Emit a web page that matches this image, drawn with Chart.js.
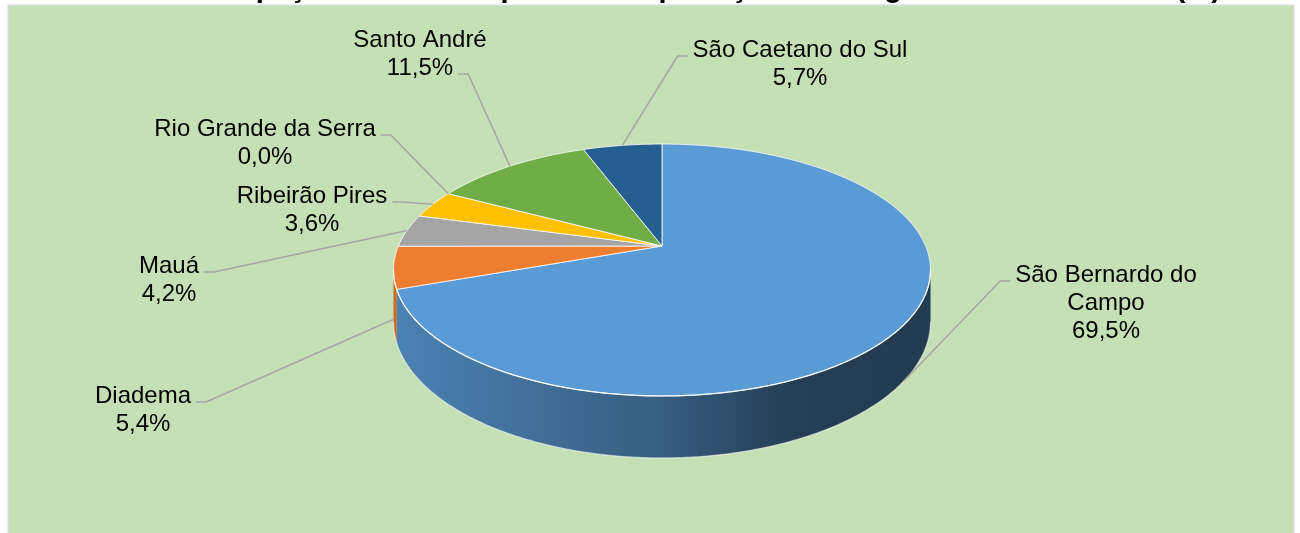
<!DOCTYPE html>
<html><head><meta charset="utf-8">
<script src="https://cdn.jsdelivr.net/npm/chart.js@4.4.1/dist/chart.umd.min.js"></script>
<style>
html,body{margin:0;padding:0;background:#fff;overflow:hidden;width:1300px;height:533px;}
#wrap{position:relative;width:1300px;height:533px;overflow:hidden;}
#c{position:absolute;left:0;top:-28px;}
</style></head><body>
<div id="wrap"><canvas id="c" width="1300" height="561"></canvas></div>
<script>
// ---- data ----
const chartTitle = 'Participação dos municípios nas exportações da Região do Grande ABC (%)';
const categories = ['São Bernardo do Campo','Diadema','Mauá','Ribeirão Pires','Rio Grande da Serra','Santo André','São Caetano do Sul'];
const shares = [69.5, 5.4, 4.2, 3.6, 0.0, 11.5, 5.7];
// ---- styles ----
const sliceColors = ['#5b9bd5','#ed7d31','#a5a5a5','#ffc000','#4472c4','#70ad47','#255e91'];
// label layout: text centre x, first baseline y, which line the leader attaches to, on which side
const labelLayout = [
  {x:1106, y:282, line:0, side:'left',  wrap:200},
  {x:143,  y:403, line:0, side:'right', wrap:400},
  {x:169,  y:273, line:0, side:'right', wrap:400},
  {x:312,  y:203, line:0, side:'right', wrap:400},
  {x:265,  y:136, line:0, side:'right', wrap:400},
  {x:420,  y:47,  line:1, side:'right', wrap:400},
  {x:800,  y:57,  line:0, side:'left',  wrap:400}
];
const OFF = 28;              // canvas shifted up so the title is cut as in the reference
const CX = 662, CY = 246;    // apex of the pie
const RA = 263.6, RB = 121.4, PERSP = 0.1905, DEPTH = 50.2;
const LABEL_FONT = '24px "Liberation Sans", Arial, sans-serif';
const LINE_H = 28;

function proj(t, d) {
  const X = Math.cos(t), Z = -Math.sin(t), den = 1 + PERSP * Z;
  return [CX + RA * X / den, CY - RB * Z / den + d * DEPTH / den];
}
function shade(hex, f) {
  const n = parseInt(hex.slice(1), 16);
  const r = Math.round(((n >> 16) & 255) * f), g = Math.round(((n >> 8) & 255) * f), b = Math.round((n & 255) * f);
  return 'rgb(' + r + ',' + g + ',' + b + ')';
}
function arcPath(ctx, a, b, d, first) {
  const steps = Math.max(2, Math.ceil(Math.abs(b - a) / 0.01));
  for (let k = 0; k <= steps; k++) {
    const t = a + (b - a) * k / steps;
    const p = proj(t, d);
    if (first && k === 0) ctx.moveTo(p[0], p[1]); else ctx.lineTo(p[0], p[1]);
  }
}
function wrapText(ctx, text, maxW) {
  const words = text.split(' ');
  const lines = [];
  let cur = '';
  for (const w of words) {
    const test = cur ? cur + ' ' + w : w;
    if (cur && ctx.measureText(test).width > maxW) { lines.push(cur); cur = w; } else cur = test;
  }
  if (cur) lines.push(cur);
  return lines;
}

const pie3d = {
  id: 'pie3d',
  beforeDraw(chart) {
    const ctx = chart.ctx;
    ctx.save();
    ctx.fillStyle = '#ffffff';
    ctx.fillRect(0, 0, chart.width, chart.height);
    ctx.translate(0, OFF);
    ctx.fillStyle = '#c5e0b4';
    ctx.fillRect(8, 5, 1286, 560);
    ctx.strokeStyle = '#d9d9d9';
    ctx.lineWidth = 1.5;
    ctx.strokeRect(8.25, 5.25, 1285.5, 560);
    ctx.restore();
  },
  beforeDatasetsDraw(chart) {
    const ctx = chart.ctx;
    const meta = chart.getDatasetMeta(0);
    const arcs = meta.data;
    const tL = Math.asin(PERSP), tR = Math.PI - Math.asin(PERSP);
    ctx.save();
    ctx.translate(0, OFF);
    // side walls (front half)
    arcs.forEach((arc, i) => {
      const a = Math.max(arc.startAngle, tL), b = Math.min(arc.endAngle, tR);
      if (b <= a) return;
      ctx.beginPath();
      arcPath(ctx, a, b, 0, true);
      arcPath(ctx, b, a, 1, false);
      ctx.closePath();
      const g = ctx.createLinearGradient(CX - RA * 1.02, 0, CX + RA * 1.02, 0);
      const c = sliceColors[i];
      g.addColorStop(0, shade(c, 0.84));
      g.addColorStop(0.5, shade(c, 0.6));
      g.addColorStop(0.74, shade(c, 0.4));
      g.addColorStop(1, shade(c, 0.38));
      ctx.fillStyle = g;
      ctx.fill();
    });
    // bottom edge highlight
    ctx.beginPath();
    arcPath(ctx, tL, tR, 1, true);
    ctx.strokeStyle = 'rgba(255,255,255,0.55)';
    ctx.lineWidth = 1.3;
    ctx.stroke();
    // top faces
    arcs.forEach((arc, i) => {
      if (arc.endAngle - arc.startAngle <= 1e-6) return;
      ctx.beginPath();
      ctx.moveTo(CX, CY);
      arcPath(ctx, arc.startAngle, arc.endAngle, 0, false);
      ctx.closePath();
      ctx.fillStyle = sliceColors[i];
      ctx.fill();
      ctx.strokeStyle = 'rgba(255,255,255,0.8)';
      ctx.lineWidth = 1;
      ctx.lineJoin = 'round';
      ctx.stroke();
    });
    // front rim highlight
    ctx.beginPath();
    arcPath(ctx, tL, tR, 0, true);
    ctx.strokeStyle = 'rgba(255,255,255,0.85)';
    ctx.lineWidth = 1.3;
    ctx.stroke();
    // labels + leader lines
    ctx.font = LABEL_FONT;
    ctx.textAlign = 'center';
    ctx.textBaseline = 'alphabetic';
    arcs.forEach((arc, i) => {
      const L = labelLayout[i];
      const pct = shares[i].toFixed(1).replace('.', ',') + '%';
      const lines = wrapText(ctx, categories[i], L.wrap).concat([pct]);
      ctx.fillStyle = '#000000';
      lines.forEach((ln, k) => ctx.fillText(ln, L.x, L.y + k * LINE_H));
      const w = ctx.measureText(lines[L.line]).width;
      const ay = L.y + L.line * LINE_H - 1;
      const ax = L.side === 'right' ? L.x + w / 2 + 5 : L.x - w / 2 - 5;
      const ex = L.side === 'right' ? ax + 10 : ax - 10;
      const m = (arc.startAngle + arc.endAngle) / 2;
      const p = proj(m, Math.sin(m) > 0 ? 1 : 0);
      ctx.beginPath();
      ctx.moveTo(ax, ay);
      ctx.lineTo(ex, ay);
      ctx.lineTo(p[0], p[1]);
      ctx.strokeStyle = '#a6a6a6';
      ctx.lineWidth = 1.5;
      ctx.stroke();
    });
    ctx.restore();
    return false;
  }
};

new Chart(document.getElementById('c'), {
  type: 'pie',
  data: {
    labels: categories,
    datasets: [{ data: shares, backgroundColor: sliceColors, borderWidth: 0 }]
  },
  options: {
    responsive: false,
    animation: false,
    devicePixelRatio: 1,
    events: [],
    layout: { padding: { left: 167, right: 0, top: 0, bottom: 0 } },
    plugins: {
      legend: { display: false },
      tooltip: { enabled: false },
      title: {
        display: true,
        text: chartTitle,
        align: 'start',
        color: '#000000',
        font: { family: '"Liberation Sans", Arial, sans-serif', size: 29, weight: 'bold' },
        padding: { top: 0, bottom: 0 }
      }
    }
  },
  plugins: [pie3d]
});
</script>
</body></html>
